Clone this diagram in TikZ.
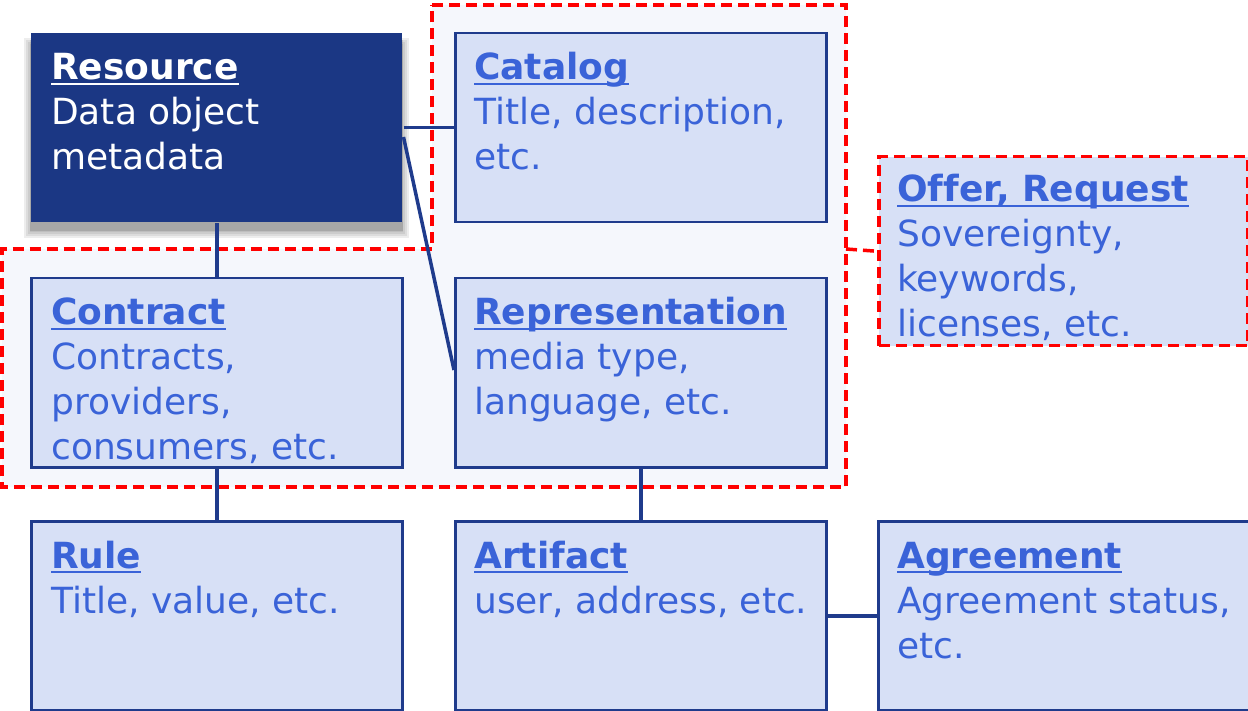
\documentclass[tikz,border=0pt]{standalone}
\usepackage{fontspec}
\setmainfont{DejaVu Sans}[Ligatures=NoCommon]
\usetikzlibrary{calc}
\definecolor{dkblue}{HTML}{1B3784}
\definecolor{edgeblue}{HTML}{1F3B8C}
\definecolor{boxfill}{HTML}{D7E0F6}
\definecolor{txtblue}{HTML}{3A63D8}
\definecolor{regfill}{HTML}{F5F7FC}
\newsavebox\myulbox
\newcommand\myul[1]{\sbox\myulbox{#1}\rlap{\rule[-5pt]{\wd\myulbox}{2pt}}\usebox\myulbox}
\begin{document}
\begin{tikzpicture}[x=1pt,y=-1pt,
  boxnode/.style={draw=edgeblue, line width=2.5pt, fill=boxfill, minimum width=371pt, minimum height=189pt, inner sep=0pt, anchor=north west},
  txt/.style={anchor=base west, inner sep=0pt, text=txtblue, font=\fontsize{36}{45}\selectfont},
  conn/.style={draw=edgeblue, line width=3.5pt},
  reddash/.style={draw=red, line width=3.5pt, dash pattern=on 11pt off 6pt},
  region/.style={reddash, fill=regfill},
  shadowlayer/.style={fill=black, draw=none}]
\useasboundingbox (0,0) rectangle (1248,711);
% dashed region
\draw[region] (432,5) -- (846,5) -- (846,487) -- (1.75,487) -- (1.75,249) -- (432,249) -- cycle;
\coordinate (regR) at (846,249);
% soft shadow of the resource box
\foreach \d in {0,2,4,6}{
  \fill[shadowlayer, opacity=0.07] (24+\d,38+\d) rectangle (409-\d,238-\d);
}
\fill[shadowlayer, opacity=0.12] (30,40) rectangle (403,231);
% boxes
\node[boxnode, draw=none, fill=dkblue] (res) at (30,32) {};
\node[boxnode] (cat) at (454,32) {};
\node[boxnode] (con) at (30,277) {};
\node[boxnode] (rep) at (454,277) {};
\node[boxnode] (rule) at (30,520) {};
\node[boxnode] (art) at (454,520) {};
\node[boxnode] (agr) at (877,520) {};
\node[boxnode, reddash, minimum width=369pt] (off) at (877,155) {};
% texts
\node[txt, text=white] (resT) at ($(res.north west)+(21,48)$) {\parbox[t]{350pt}{\textbf{\myul{Resource}}\\Data object\\metadata}};
\node[txt] (catT) at ($(cat.north west)+(20,48)$) {\parbox[t]{350pt}{\textbf{\myul{Catalog}}\\Title, description,\\etc.}};
\node[txt] (conT) at ($(con.north west)+(21,48)$) {\parbox[t]{350pt}{\textbf{\myul{Contract}}\\Contracts,\\providers,\\consumers, etc.}};
\node[txt] (repT) at ($(rep.north west)+(20,48)$) {\parbox[t]{350pt}{\textbf{\myul{Representation}}\\media type,\\language, etc.}};
\node[txt] (ruleT) at ($(rule.north west)+(21,48)$) {\parbox[t]{350pt}{\textbf{\myul{Rule}}\\Title, value, etc.}};
\node[txt] (artT) at ($(art.north west)+(20,48)$) {\parbox[t]{350pt}{\textbf{\myul{Artifact}}\\user, address, etc.}};
\node[txt] (agrT) at ($(agr.north west)+(20,48)$) {\parbox[t]{350pt}{\textbf{\myul{Agreement}}\\Agreement status,\\etc.}};
\node[txt] (offT) at ($(off.north west)+(20,47)$) {\parbox[t]{350pt}{\textbf{\myul{Offer, Request}}\\Sovereignty,\\keywords,\\licenses, etc.}};
% connectors
\draw[reddash] (regR) -- (off.west);
\draw[conn] (res.east) -- (cat.west);
\draw[conn] ($(res.north east)+(0,105)$) -- ($(rep.north west)+(0,93)$);
\draw[conn] (res.south) -- (con.north);
\draw[conn] (con.south) -- (rule.north);
\draw[conn] (rep.south) -- (art.north);
\draw[conn] (art.east) -- (agr.west);
\end{tikzpicture}
\end{document}
